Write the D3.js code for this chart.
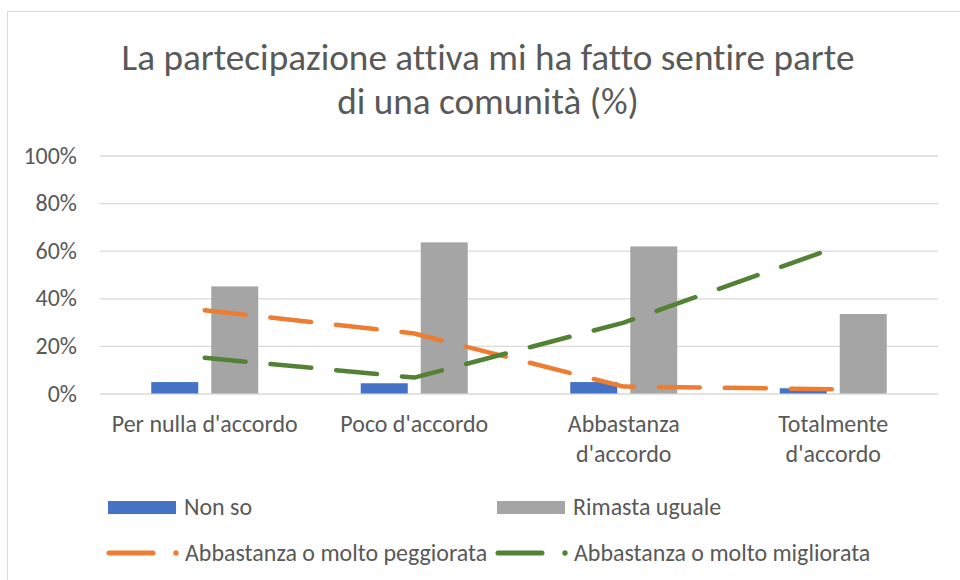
<!DOCTYPE html>
<html>
<head>
<meta charset="utf-8">
<script src="https://cdn.jsdelivr.net/npm/d3@7"></script>
<style>
  html, body { margin: 0; padding: 0; background: #fff; }
  svg { display: block; }
  text { font-family: Carlito, Calibri, Lato, "Open Sans", sans-serif; fill: #595959; font-variant-ligatures: none; font-feature-settings: "liga" 0, "clig" 0; }
</style>
</head>
<body>
<svg id="chart" width="960" height="580"></svg>
<script>
// ---- data ----
const titleLines = ["La partecipazione attiva mi ha fatto sentire parte", "di una comunità (%)"];
const categories = ["Per nulla d'accordo", "Poco d'accordo", "Abbastanza d'accordo", "Totalmente d'accordo"];
const categoryLabelLines = [["Per nulla d'accordo"], ["Poco d'accordo"], ["Abbastanza", "d'accordo"], ["Totalmente", "d'accordo"]];
const barSeriesNames = ["Non so", "Rimasta uguale"];
const nonSo = [4.8, 4.3, 4.8, 2.2];
const rimastaUguale = [45.0, 63.5, 61.8, 33.4];
const lineSeriesNames = ["Abbastanza o molto peggiorata", "Abbastanza o molto migliorata"];
const peggiorata = [35.0, 25.2, 2.9, 1.8];
const migliorata = [15.0, 6.7, 29.8, 61.0];
const yTicks = [0, 20, 40, 60, 80, 100];
const yTickLabels = ["0%", "20%", "40%", "60%", "80%", "100%"];

const barColors = ["#4472C4", "#A5A5A5"];
const lineColors = ["#ED7D31", "#548235"];

// ---- layout ----
const svg = d3.select("#chart");
const plot = { left: 100, right: 938, top: 155.5, bottom: 393.5 };
const textColor = "#595959";

// chart border
svg.append("rect").attr("x", 7.5).attr("y", 11.5).attr("width", 970).attr("height", 600)
  .attr("fill", "none").attr("stroke", "#D9D9D9").attr("stroke-width", 1);

// font fitting helper
function fitSize(str, target, base) {
  const t = svg.append("text").attr("font-size", base).text(str);
  const w = t.node().getComputedTextLength();
  t.remove();
  return base * target / w;
}
const titleSize = Math.min(38, fitSize(titleLines[0], 733, 34));
const labelSize = Math.min(24.5, fitSize(categoryLabelLines[0][0], 186, 22));

// title
const titleCx = 488;
svg.append("g").selectAll("text").data(titleLines).join("text")
  .attr("x", titleCx).attr("y", (d, i) => 69.5 + i * 44)
  .attr("text-anchor", "middle").attr("font-size", titleSize).text(d => d);

// scales
const y = d3.scaleLinear().domain([0, 100]).range([plot.bottom, plot.top]);
const x0 = d3.scaleBand().domain(categories).range([plot.left, plot.right]).padding(0);
const groupW = 107;
const x1 = d3.scaleBand().domain(barSeriesNames).range([-groupW / 2, groupW / 2]).paddingInner(0.2167).paddingOuter(0);
const cx = c => x0(c) + x0.bandwidth() / 2;

// gridlines
const yAxis = d3.axisLeft(y).tickValues(yTicks).tickSize(-(plot.right - plot.left)).tickFormat((d, i) => yTickLabels[i]).tickPadding(23);
const gy = svg.append("g").attr("transform", `translate(${plot.left},0)`).call(yAxis);
gy.select(".domain").remove();
gy.selectAll(".tick line").attr("stroke", "#D9D9D9").attr("stroke-width", 1.3);
gy.selectAll(".tick text").attr("font-size", labelSize).attr("fill", textColor)
  .style("font-family", "Carlito, Calibri, Lato, 'Open Sans', sans-serif");

// bars
const barData = [nonSo, rimastaUguale];
barSeriesNames.forEach((name, si) => {
  svg.append("g").selectAll("rect").data(categories).join("rect")
    .attr("x", c => cx(c) + x1(name))
    .attr("width", x1.bandwidth())
    .attr("y", (c, i) => y(barData[si][i]))
    .attr("height", (c, i) => y(0) - y(barData[si][i]))
    .attr("fill", barColors[si]);
});

// lines
const lineData = [peggiorata, migliorata];
const lineGen = d3.line().x(d => cx(d.c)).y(d => y(d.v));
lineSeriesNames.forEach((name, si) => {
  const pts = categories.map((c, i) => ({ c, v: lineData[si][i] }));
  svg.append("path").datum(pts).attr("d", lineGen)
    .attr("fill", "none").attr("stroke", lineColors[si]).attr("stroke-width", 4.5)
    .attr("stroke-linecap", "round").attr("stroke-linejoin", "round")
    .attr("stroke-dasharray", "41 25");
});

// category labels
const gx = svg.append("g");
categories.forEach((c, i) => {
  gx.append("g").selectAll("text").data(categoryLabelLines[i]).join("text")
    .attr("x", cx(c)).attr("y", (d, j) => 431.5 + j * 30)
    .attr("text-anchor", "middle").attr("font-size", labelSize).text(d => d);
});

// legend
const legendCols = [108, 497];
const leg = svg.append("g");
barSeriesNames.forEach((name, i) => {
  const lx = legendCols[i];
  leg.append("rect").attr("x", lx).attr("y", 501).attr("width", 68).attr("height", 13).attr("fill", barColors[i]);
  leg.append("text").attr("x", lx + 76).attr("y", 515).attr("font-size", labelSize).text(name);
});
lineSeriesNames.forEach((name, i) => {
  const lx = legendCols[i];
  leg.append("line").attr("x1", lx + 1).attr("x2", lx + 45).attr("y1", 553).attr("y2", 553)
    .attr("stroke", lineColors[i]).attr("stroke-width", 5).attr("stroke-linecap", "round");
  leg.append("circle").attr("cx", lx + 68).attr("cy", 553).attr("r", 2.7).attr("fill", lineColors[i]);
  leg.append("text").attr("x", lx + 77).attr("y", 560.5).attr("font-size", labelSize).text(name);
});
</script>
</body>
</html>
